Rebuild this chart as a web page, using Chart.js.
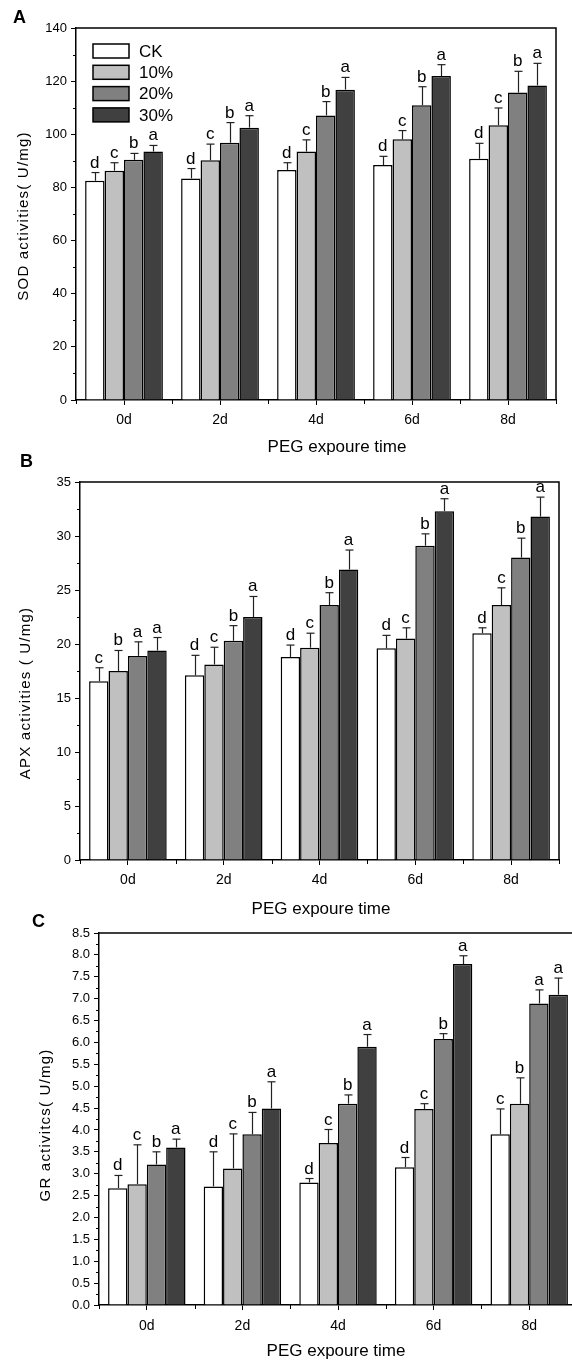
<!DOCTYPE html>
<html>
<head>
<meta charset="utf-8">
<script src="https://cdn.jsdelivr.net/npm/chart.js@4"></script>
<style>
  html, body { margin: 0; padding: 0; background: #fff; overflow: hidden; }
  body { width: 572px; height: 1363px; position: relative; }
  canvas { position: absolute; left: 0; }
</style>
</head>
<body>
<canvas id="panelA" width="572" height="460" style="top:0px"></canvas>
<canvas id="panelB" width="572" height="470" style="top:450px"></canvas>
<canvas id="panelC" width="580" height="463" style="top:900px"></canvas>
<script>
const categories = ['0d', '2d', '4d', '6d', '8d'];
const seriesNames = ['CK', '10%', '20%', '30%'];
const barColors = ['#ffffff', '#c0c0c0', '#808080', '#404040'];

// SOD (panel A): one row per series CK, 10%, 20%, 30%
const sodMean = [
  [82.5, 83.4, 86.6, 88.4, 90.8],
  [86.3, 90.2, 93.5, 98.1, 103.4],
  [90.4, 96.8, 107.1, 110.9, 115.7],
  [93.5, 102.5, 116.8, 121.9, 118.4]
];
const sodSd = [
  [3.1, 3.7, 2.7, 3.3, 5.8],
  [3.0, 6.1, 4.4, 3.3, 6.5],
  [2.4, 7.6, 5.2, 7.0, 8.0],
  [2.3, 4.5, 4.6, 4.3, 8.3]
];
const sodSig = [
  ['d', 'd', 'd', 'd', 'd'],
  ['c', 'c', 'c', 'c', 'c'],
  ['b', 'b', 'b', 'b', 'b'],
  ['a', 'a', 'a', 'a', 'a']
];

// APX (panel B)
const apxMean = [
  [16.55, 17.1, 18.8, 19.6, 21.0],
  [17.5, 18.1, 19.66, 20.5, 23.6],
  [18.9, 20.3, 23.6, 29.1, 28.0],
  [19.4, 22.5, 26.9, 32.3, 31.8]
];
const apxSd = [
  [1.25, 1.85, 1.1, 1.2, 0.5],
  [1.9, 1.6, 1.34, 1.0, 1.6],
  [1.3, 1.4, 1.15, 1.1, 1.8],
  [1.2, 1.9, 1.8, 1.15, 1.8]
];
const apxSig = [
  ['c', 'd', 'd', 'd', 'd'],
  ['b', 'c', 'c', 'c', 'c'],
  ['a', 'b', 'b', 'b', 'b'],
  ['a', 'a', 'a', 'a', 'a']
];

// GR (panel C)
const grMean = [
  [2.67, 2.71, 2.80, 3.15, 3.90],
  [2.76, 3.12, 3.70, 4.48, 4.60],
  [3.21, 3.90, 4.60, 6.08, 6.89],
  [3.60, 4.49, 5.90, 7.79, 7.09]
];
const grSd = [
  [0.29, 0.79, 0.09, 0.22, 0.58],
  [0.90, 0.79, 0.31, 0.12, 0.59],
  [0.29, 0.50, 0.20, 0.12, 0.31],
  [0.19, 0.61, 0.28, 0.19, 0.38]
];
const grSig = [
  ['d', 'd', 'd', 'd', 'c'],
  ['c', 'c', 'c', 'c', 'b'],
  ['b', 'b', 'b', 'b', 'a'],
  ['a', 'a', 'a', 'a', 'a']
];

const FONT = "'Liberation Sans', Arial, sans-serif";

function line(ctx, x1, y1, x2, y2) {
  ctx.beginPath();
  ctx.moveTo(x1, y1);
  ctx.lineTo(x2, y2);
  ctx.stroke();
}

// frame, minor ticks, error bars, letters, legend and titles
const decor = {
  id: 'decor',
  afterDraw(chart, args, o) {
    const ctx = chart.ctx;
    const a = chart.chartArea;
    const xs = chart.scales.x, ys = chart.scales.y;
    ctx.save();
    ctx.strokeStyle = '#000';
    ctx.lineWidth = 1.5;
    ctx.beginPath();
    ctx.moveTo(a.left, a.top);
    ctx.lineTo(a.right, a.top);
    ctx.lineTo(a.right, a.bottom);
    ctx.stroke();

    ctx.lineWidth = 1;
    for (let v = o.minor; v < ys.max; v += o.minor * 2) {
      const y = Math.round(ys.getPixelForValue(v)) + 0.5;
      line(ctx, a.left - 3, y, a.left, y);
    }
    const n = categories.length;
    for (let j = 0; j <= n; j++) {
      let x;
      if (j === 0) x = a.left;
      else if (j === n) x = a.right;
      else x = (xs.getPixelForValue(j - 1) + xs.getPixelForValue(j)) / 2;
      x = Math.round(x) + 0.5;
      line(ctx, x, a.bottom, x, a.bottom + 4);
    }

    // error bars + significance letters
    ctx.font = '17px ' + FONT;
    ctx.fillStyle = '#000';
    ctx.textAlign = 'center';
    ctx.textBaseline = 'alphabetic';
    chart.data.datasets.forEach((ds, i) => {
      const meta = chart.getDatasetMeta(i);
      meta.data.forEach((bar, j) => {
        const top = ys.getPixelForValue(ds.data[j] + o.sd[i][j]);
        const x = Math.round(bar.x) + 0.5;
        ctx.strokeStyle = '#222';
        ctx.lineWidth = 1.2;
        line(ctx, x, bar.y, x, top);
        line(ctx, x - 4, top, x + 4, top);
        ctx.fillText(o.sig[i][j], bar.x, top - 5);
      });
    });

    // legend
    if (o.legend) {
      ctx.textAlign = 'left';
      ctx.textBaseline = 'middle';
      ctx.font = '17px ' + FONT;
      chart.data.datasets.forEach((ds, i) => {
        const y = o.legend.y + i * o.legend.gap;
        ctx.fillStyle = ds.backgroundColor;
        ctx.fillRect(o.legend.x, y - 7, 36, 14);
        ctx.strokeStyle = '#000';
        ctx.lineWidth = 1.5;
        ctx.strokeRect(o.legend.x, y - 7, 36, 14);
        ctx.fillStyle = '#000';
        ctx.fillText(ds.label, o.legend.x + 46, y + 1);
      });
    }

    // panel letter
    ctx.fillStyle = '#000';
    ctx.font = 'bold 18px ' + FONT;
    ctx.textAlign = 'left';
    ctx.textBaseline = 'middle';
    ctx.fillText(o.letter.text, o.letter.x, o.letter.y);

    // x title
    ctx.font = '17px ' + FONT;
    ctx.textAlign = 'center';
    ctx.fillText('PEG expoure time', o.xTitle.x, o.xTitle.y);

    // y title
    ctx.translate(o.yTitle.x, o.yTitle.y);
    ctx.rotate(-Math.PI / 2);
    ctx.font = '15px ' + FONT;
    ctx.letterSpacing = '1.2px';
    ctx.fillText(o.yTitle.text, 0, 0);
    ctx.restore();
  }
};

function makePanel(id, p) {
  const canvas = document.getElementById(id);
  const datasets = seriesNames.map((name, i) => ({
    label: name,
    data: p.mean[i],
    backgroundColor: barColors[i],
    borderColor: '#000',
    borderWidth: 1.5,
    categoryPercentage: 0.81,
    barPercentage: 1.0
  }));
  return new Chart(canvas, {
    type: 'bar',
    data: { labels: categories, datasets: datasets },
    plugins: [decor],
    options: {
      responsive: false,
      animation: false,
      events: [],
      layout: { padding: { top: p.top, right: canvas.width - p.right, left: 0, bottom: 0 } },
      scales: {
        x: {
          grid: { display: true, drawOnChartArea: false, drawTicks: true, tickLength: 5, offset: false, color: '#000', lineWidth: 1 },
          border: { display: true, color: '#000', width: 1.5 },
          ticks: { color: '#000', font: { family: FONT, size: 14 }, padding: p.xPad },
          afterFit(scale) { scale.height = canvas.height - p.bottom; }
        },
        y: {
          min: 0,
          max: p.max,
          grid: { display: true, drawOnChartArea: false, drawTicks: true, tickLength: 5, color: '#000', lineWidth: 1 },
          border: { display: true, color: '#000', width: 1.5 },
          ticks: {
            stepSize: p.step,
            autoSkip: false,
            color: '#000',
            font: { family: FONT, size: 13 },
            padding: 4,
            callback: p.fmt
          },
          afterFit(scale) { scale.width = p.left; }
        }
      },
      plugins: {
        legend: { display: false },
        tooltip: { enabled: false },
        decor: {
          sd: p.sd,
          sig: p.sig,
          minor: p.step / 2,
          legend: p.legend,
          letter: p.letter,
          xTitle: p.xTitle,
          yTitle: p.yTitle
        }
      }
    }
  });
}

makePanel('panelA', {
  mean: sodMean, sd: sodSd, sig: sodSig,
  max: 140, step: 20, fmt: v => v,
  left: 76, right: 556, top: 28, bottom: 400, xPad: 7,
  legend: { x: 93, y: 51, gap: 21.3 },
  letter: { text: 'A', x: 13, y: 18 },
  xTitle: { x: 337, y: 447 },
  yTitle: { text: 'SOD activities( U/mg)', x: 24, y: 216 }
});

makePanel('panelB', {
  mean: apxMean, sd: apxSd, sig: apxSig,
  max: 35, step: 5, fmt: v => v,
  left: 80, right: 559, top: 32, bottom: 410, xPad: 7,
  legend: null,
  letter: { text: 'B', x: 20, y: 12 },
  xTitle: { x: 321, y: 459 },
  yTitle: { text: 'APX activities ( U/mg)', x: 26, y: 243 }
});

makePanel('panelC', {
  mean: grMean, sd: grSd, sig: grSig,
  max: 8.5, step: 0.5, fmt: v => Number(v).toFixed(1),
  left: 99, right: 577, top: 33, bottom: 405, xPad: 8,
  legend: null,
  letter: { text: 'C', x: 32, y: 22 },
  xTitle: { x: 336, y: 451 },
  yTitle: { text: 'GR activitcs( U/mg)', x: 46, y: 225 }
});
</script>
</body>
</html>
